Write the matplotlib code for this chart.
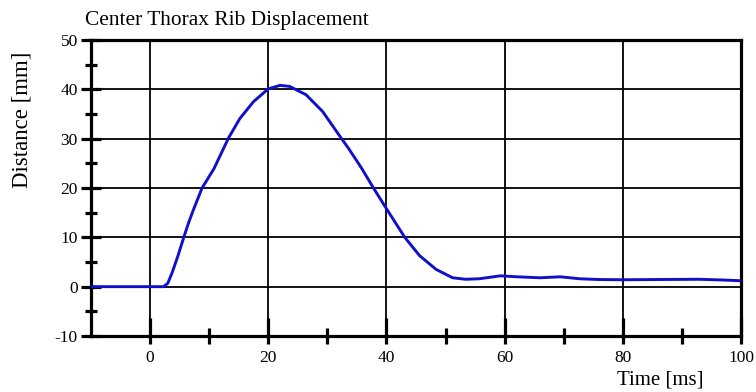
import matplotlib
matplotlib.use("Agg")
import matplotlib.pyplot as plt

time_ms = [-10, 0, 2.3, 3, 3.75, 4.7, 5.7, 6.5, 7.4, 8.8, 10.8, 13.3, 15.2, 17.5, 20, 22,
           23.6, 26.4, 29.2, 32, 33.6, 35.8, 37.8, 40, 43.1, 45.6, 48.4, 51.2, 53.4, 55.7,
           57.5, 59.3, 62.1, 66, 69.4, 72.7, 76, 80, 86, 92.9, 97, 100]
distance_mm = [0, 0, 0, 0.7, 2.9, 6.2, 10, 12.9, 15.8, 20, 23.9, 30.2, 34.1, 37.5, 40.1,
               40.8, 40.6, 38.9, 35.5, 30.7, 28.0, 24.0, 20, 15.8, 10, 6.3, 3.5, 1.8, 1.5,
               1.6, 1.9, 2.2, 2.0, 1.8, 2.0, 1.6, 1.45, 1.4, 1.45, 1.5, 1.35, 1.2]
x_ticks = [0, 20, 40, 60, 80, 100]
x_minor = [10, 30, 50, 70, 90]
y_ticks = [-10, 0, 10, 20, 30, 40, 50]
y_minor = [-5, 5, 15, 25, 35, 45]

plt.rcParams['font.family'] = ['Liberation Serif', 'DejaVu Serif']
plt.rcParams['axes.unicode_minus'] = False

W, H = 756, 392
fig = plt.figure(figsize=(W / 100, H / 100), dpi=100)
ax = fig.add_axes([91 / W, 1 - 336 / H, 650 / W, 296 / H])

ax.plot(time_ms, distance_mm, color='#1010cc', lw=2.1, zorder=3, solid_capstyle='butt')
ax.set_xlim(-10, 100)
ax.set_ylim(-10, 50)
ax.set_xticks(x_ticks)
ax.set_yticks(y_ticks)
ax.set_xticks(x_minor, minor=True)
ax.set_yticks(y_minor, minor=True)
ax.grid(True, which='major', color='black', lw=1.3, zorder=1)
for s in ax.spines.values():
    s.set_linewidth(2.3)
ax.tick_params(axis='x', which='major', direction='in', length=13, width=2.3,
               labelsize=12.5, pad=10)
ax.tick_params(axis='x', which='minor', direction='in', length=6, width=2.3)
ax.tick_params(axis='y', which='major', direction='inout', length=15, width=2.3,
               labelsize=12.5, pad=2)
ax.tick_params(axis='y', which='minor', direction='inout', length=8, width=2.3)

# outward stubs of the x ticks
sec = ax.secondary_xaxis('bottom')
sec.set_xticks(x_ticks + x_minor)
sec.tick_params(axis='x', which='major', direction='out', length=6, width=2.3,
                labelbottom=False)
sec.spines['bottom'].set_visible(False)

fig.text(85 / W, 1 - 20 / H, 'Center Thorax Rib Displacement', fontsize=15.4,
         ha='left', va='center')
fig.text(22 / W, 1 - 120 / H, 'Distance [mm]', fontsize=16.5, rotation=90,
         ha='center', va='center')
fig.text(617 / W, 1 - 380 / H, 'Time [ms]', fontsize=15, ha='left', va='center')

fig.savefig('out.png', dpi=100)
